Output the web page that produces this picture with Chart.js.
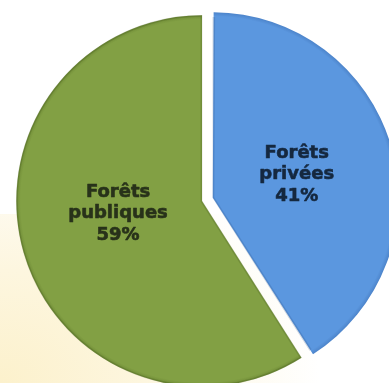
<!DOCTYPE html>
<html>
<head>
<meta charset="utf-8">
<script src="https://cdn.jsdelivr.net/npm/chart.js@4.4.1/dist/chart.umd.min.js"></script>
<style>
  html, body { margin: 0; padding: 0; background: #ffffff; overflow: hidden; }
  #wrap { position: relative; width: 389px; height: 383px; }
  /* warm glow behind the lower-left of the pie */
  #glow {
    position: absolute; left: 0; top: 214px; width: 320px; height: 169px;
    background: radial-gradient(ellipse 320px 250px at 0% 100%, #fcf1cc 0%, #fdf6df 45%, rgba(255,255,255,0) 100%);
  }
  canvas { position: absolute; left: 0; top: 0; }
</style>
</head>
<body>
<div id="wrap">
  <div id="glow"></div>
  <canvas id="pie" width="389" height="383"></canvas>
</div>
<script>
// Ownership of forests, share of total area
const labels = ["Forêts privées", "Forêts publiques"];
const shares = [41, 59];

const FILL = ["#5b97df", "#82a044"];
const RIM = ["#4b82c8", "#6f8b36"];
const EDGE = ["rgba(30,60,110,0.18)", "rgba(50,70,20,0.2)"];
const TEXT = ["#15283f", "#28321a"];
const RADIUS = 186;
const EXPLODE = [45, 0];   // arc offset (Chart.js draws it at offset/4)

// radial shading: flat body, slightly darker band right at the rim
function rimFill(c) {
  const ca = c.chart.chartArea;
  if (!ca) return FILL[c.dataIndex];
  const cx = (ca.left + ca.right) / 2, cy = (ca.top + ca.bottom) / 2;
  const g = c.chart.ctx.createRadialGradient(cx, cy, 0, cx, cy, RADIUS);
  g.addColorStop(0, FILL[c.dataIndex]);
  g.addColorStop(0.975, FILL[c.dataIndex]);
  g.addColorStop(1, RIM[c.dataIndex]);
  return g;
}

// keep the exploded slice at the same radius as the others
// (ArcElement grows an offset arc by offset/4 * (1 - sin(circumference)))
const sameRadius = {
  id: "sameRadius",
  beforeDatasetDraw(chart, args) {
    const meta = args.meta;
    meta.data.forEach((arc) => {
      const off = (arc.options.offset || 0) / 4;
      const fix = 1 - Math.sin(Math.min(Math.PI, arc.circumference));
      arc.outerRadius = meta.controller.outerRadius - off * fix;
    });
  }
};

// multi-line labels inside each slice
const sliceLabels = {
  id: "sliceLabels",
  afterDatasetsDraw(chart, args, opts) {
    const { ctx } = chart;
    const meta = chart.getDatasetMeta(0);
    ctx.save();
    ctx.font = "bold 18px 'DejaVu Sans'";
    ctx.textAlign = "center";
    ctx.textBaseline = "middle";
    ctx.lineWidth = 0.6;
    ctx.lineJoin = "round";
    meta.data.forEach((arc, i) => {
      const mid = (arc.startAngle + arc.endAngle) / 2;
      const off = (arc.options.offset || 0) / 4;
      const r = RADIUS * opts.frac + off;
      const x = arc.x + Math.cos(mid) * r;
      const y = arc.y + Math.sin(mid) * r + opts.nudge[i];
      const words = labels[i].split(" ").concat([shares[i] + "%"]);
      ctx.fillStyle = TEXT[i];
      ctx.strokeStyle = TEXT[i];
      words.forEach((w, k) => {
        const ly = y + (k - (words.length - 1) / 2) * 21.5;
        ctx.fillText(w, x, ly);
        ctx.strokeText(w, x, ly);
      });
    });
    ctx.restore();
  }
};

new Chart(document.getElementById("pie"), {
  type: "pie",
  data: {
    labels: labels,
    datasets: [{
      data: shares,
      radius: RADIUS,
      backgroundColor: rimFill,
      borderColor: EDGE,
      borderWidth: 1.5,
      borderAlign: "inner",
      offset: EXPLODE,
    }],
  },
  options: {
    responsive: false,
    animation: false,
    events: [],
    layout: { padding: { left: 15, top: 19, right: 0, bottom: 0 } },
    plugins: {
      legend: { display: false },
      tooltip: { enabled: false },
      sliceLabels: { frac: 0.47, nudge: [1, -12] },
    },
  },
  plugins: [sameRadius, sliceLabels],
});
</script>
</body>
</html>
